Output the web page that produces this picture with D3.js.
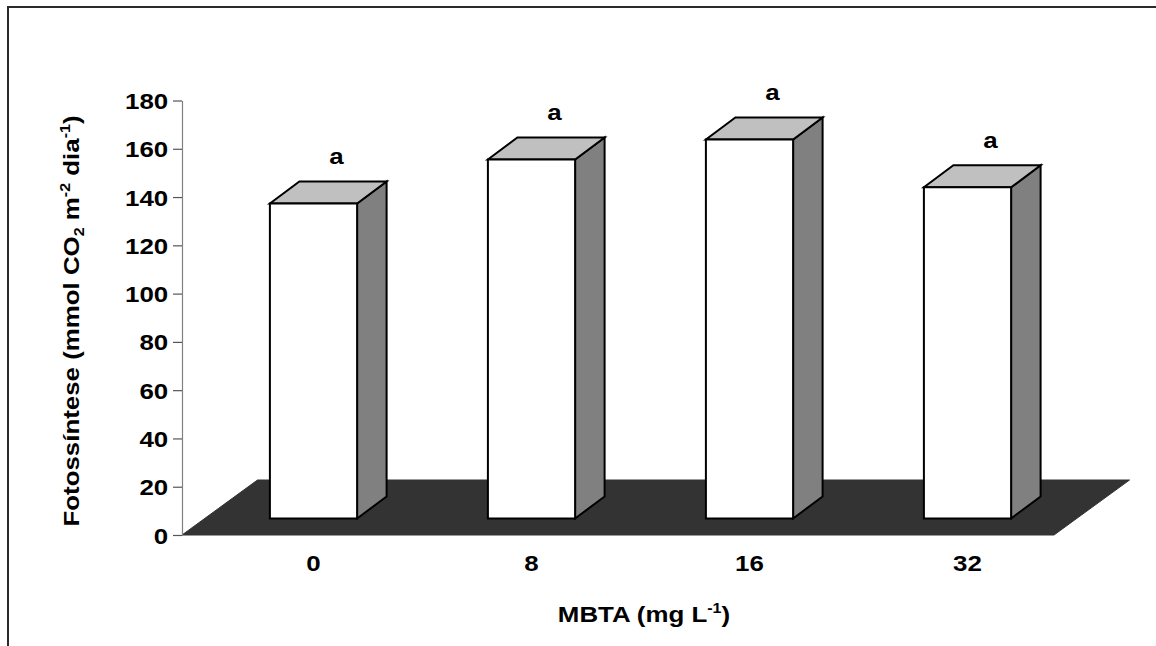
<!DOCTYPE html>
<html>
<head>
<meta charset="utf-8">
<script src="https://cdn.jsdelivr.net/npm/d3@7"></script>
<style>
  html, body { margin: 0; padding: 0; background: #fff; }
  svg { display: block; }
  text { font-family: "Liberation Sans", Arial, sans-serif; font-weight: bold; fill: #000; }
</style>
</head>
<body>
<svg id="chart" width="1156" height="646"></svg>
<script>
// ---- data ----
const categories = ["0", "8", "16", "32"];
const values = [130.5, 148.7, 157.0, 137.2];
const letters = ["a", "a", "a", "a"];
const yTicks = [0, 20, 40, 60, 80, 100, 120, 140, 160, 180];
const yDomain = [0, 180];

// ---- layout ----
const W = 1156, H = 646;
const plot = { left: 182, right: 1054, top: 100.5, bottom: 535 };
const floorDepth = { dx: 75.5, dy: -55 };
const frontOff = { dx: 22.5, dy: -16.5 };
const barDepth = { dx: 29.5, dy: -22 };
const fontSize = 22.5;
const stretch = 1.15;

const svg = d3.select("#chart");

// outer frame
svg.append("rect")
  .attr("x", 8).attr("y", 7).attr("width", 1300).attr("height", 800)
  .attr("fill", "none").attr("stroke", "#2a2a2a").attr("stroke-width", 2);

const x = d3.scaleBand().domain(categories)
  .range([plot.left, plot.right]).paddingInner(0.6).paddingOuter(0.3);
const y = d3.scaleLinear().domain(yDomain).range([plot.bottom, plot.top]);
const step = x.step();

// floor
const fx0 = plot.left, fx1 = plot.right, fy = y(0);
svg.append("polygon")
  .attr("points", [
    [fx0, fy], [fx1, fy],
    [fx1 + floorDepth.dx, fy + floorDepth.dy],
    [fx0 + floorDepth.dx, fy + floorDepth.dy]
  ].map(p => p.join(",")).join(" "))
  .attr("fill", "#333333").attr("stroke", "#333333").attr("stroke-width", 1);

// y axis
const yAxis = d3.axisLeft(y).tickValues(yTicks).tickSize(9).tickSizeOuter(0).tickPadding(3);
const gy = svg.append("g").attr("transform", `translate(${plot.left},0)`).call(yAxis);
gy.select(".domain").attr("stroke", "#808080").attr("stroke-width", 1.2);
gy.selectAll(".tick line").attr("stroke", "#555").attr("stroke-width", 1.2);
gy.selectAll(".tick text")
  .attr("font-size", fontSize)
  .attr("font-family", "Liberation Sans, Arial, sans-serif")
  .attr("font-weight", "bold")
  .attr("fill", "#000")
  .attr("dy", "0.36em")
  .attr("transform", `scale(${stretch},1)`);

// bars
const bars = svg.append("g");
categories.forEach((c, i) => {
  const v = values[i];
  const x0 = x(c) + frontOff.dx;
  const x1 = x0 + x.bandwidth();
  const yt = y(v) + frontOff.dy;
  const yb = y(0) + frontOff.dy;
  const g = bars.append("g")
    .attr("stroke", "#000").attr("stroke-width", 2).attr("stroke-linejoin", "miter");
  const pts = a => a.map(p => p.join(",")).join(" ");
  g.append("polygon").attr("fill", "#808080").attr("points", pts([
    [x1, yb], [x1 + barDepth.dx, yb + barDepth.dy],
    [x1 + barDepth.dx, yt + barDepth.dy], [x1, yt]
  ]));
  g.append("polygon").attr("fill", "#c0c0c0").attr("points", pts([
    [x0, yt], [x0 + barDepth.dx, yt + barDepth.dy],
    [x1 + barDepth.dx, yt + barDepth.dy], [x1, yt]
  ]));
  g.append("polygon").attr("fill", "#ffffff").attr("points", pts([
    [x0, yt], [x1, yt], [x1, yb], [x0, yb]
  ]));
});

// helper for stretched text
function stretchedText(px, py, rotate, parts) {
  const g = svg.append("g")
    .attr("transform", `translate(${px},${py}) rotate(${rotate}) scale(${stretch},1)`);
  const t = g.append("text").attr("text-anchor", "middle").attr("font-size", fontSize);
  let shift = 0;
  parts.forEach(p => {
    const ts = t.append("tspan").text(p.t);
    let target = 0, fs = fontSize;
    if (p.sup) { target = -0.38 * fontSize; fs = fontSize * 0.62; }
    if (p.sub) { target = 0.22 * fontSize; fs = fontSize * 0.62; }
    ts.attr("font-size", fs).attr("dy", target - shift);
    shift = target;
  });
  return t;
}

// letters above bars
categories.forEach((c, i) => {
  const cx = x(c) + x.bandwidth() / 2 + frontOff.dx + 23;
  const cy = y(values[i]) - 56;
  stretchedText(cx, cy, 0, [{ t: letters[i] }]);
});

// x category labels
categories.forEach(c => {
  const cx = x(c) + x.bandwidth() / 2 + frontOff.dx;
  stretchedText(cx, y(0) + 36, 0, [{ t: c }]);
});

// x axis title
stretchedText((plot.left + plot.right) / 2 + 26, 622, 0, [
  { t: "MBTA (mg L" }, { t: "-1", sup: true }, { t: ")" }
]);

// y axis title
stretchedText(79, 321, -90, [
  { t: "Fotossíntese (mmol CO" }, { t: "2", sub: true }, { t: " m" },
  { t: "-2", sup: true }, { t: " dia" }, { t: "-1", sup: true }, { t: ")" }
]);
</script>
</body>
</html>
